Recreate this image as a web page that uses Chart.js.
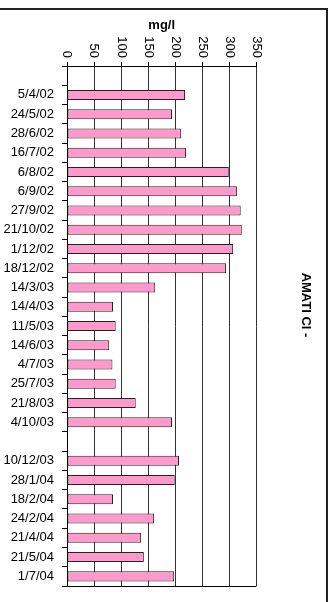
<!DOCTYPE html>
<html lang="en">
<head>
<meta charset="UTF-8" />
<title>AMATI Cl -</title>
<script src="https://cdn.jsdelivr.net/npm/chart.js@4.4.0/dist/chart.umd.min.js"></script>
<style>
  html, body { margin: 0; padding: 0; background: #fff; }
</style>
</head>
<body>
<canvas id="chart1" width="332" height="602"></canvas>
<script>
// sampling dates (blank rows are empty slots in the original sheet)
const dates = ['', '5/4/02', '24/5/02', '28/6/02', '16/7/02', '6/8/02', '6/9/02', '27/9/02',
  '21/10/02', '1/12/02', '18/12/02', '14/3/03', '14/4/03', '11/5/03', '14/6/03', '4/7/03',
  '25/7/03', '21/8/03', '4/10/03', '', '10/12/03', '28/1/04', '18/2/04', '24/2/04',
  '21/4/04', '21/5/04', '1/7/04'];
// chloride, mg/l
const chloride = [null, 218, 194, 211, 220, 299, 314, 321, 323, 307, 294, 163, 85, 90, 78,
  84, 90, 127, 194, null, 207, 199, 85, 161, 137, 142, 198];
const xTicks = [0, 50, 100, 150, 200, 250, 300, 350];

const FONT = '"Liberation Sans", Arial, sans-serif';

// tick labels on the top axis read downwards, frame lines round the chart
const sideStuff = {
  id: 'sideStuff',
  afterDraw(chart) {
    const ctx = chart.ctx;
    const area = chart.chartArea;
    const x = chart.scales.x;
    ctx.save();
    ctx.font = '13px ' + FONT;
    ctx.fillStyle = '#000';
    ctx.textAlign = 'right';
    ctx.textBaseline = 'middle';
    x.ticks.forEach((t) => {
      const px = x.getPixelForValue(t.value);
      ctx.save();
      ctx.translate(px, area.top - 8);
      ctx.rotate(Math.PI / 2);
      ctx.fillText(String(t.value), 0, 0);
      ctx.restore();
    });

    ctx.strokeStyle = '#000';
    ctx.lineWidth = 1;
    ctx.beginPath();
    ctx.moveTo(area.left, Math.round(area.bottom) + 0.5);
    ctx.lineTo(area.right, Math.round(area.bottom) + 0.5);
    ctx.stroke();

    ctx.strokeStyle = '#222';
    ctx.lineWidth = 2;
    ctx.beginPath();
    ctx.moveTo(0, 9);
    ctx.lineTo(327, 9);
    ctx.lineTo(327, 602);
    ctx.stroke();
    ctx.restore();
  }
};

const ctx = document.getElementById('chart1').getContext('2d');
const chart1 = new Chart(ctx, {
  type: 'bar',
  data: {
    labels: dates,
    datasets: [{
      label: 'Cl -',
      data: chloride,
      backgroundColor: '#ff99cc',
      borderColor: '#222',
      borderWidth: 1,
      borderSkipped: false,
      categoryPercentage: 1,
      barPercentage: 0.52
    }]
  },
  options: {
    indexAxis: 'y',
    responsive: false,
    animation: false,
    layout: { padding: { top: 8, left: 0, right: 0, bottom: 0 } },
    plugins: {
      legend: { display: false },
      tooltip: { enabled: false },
      title: {
        display: true,
        text: 'AMATI Cl -',
        position: 'right',
        color: '#000',
        font: { family: FONT, size: 13, weight: 'bold' },
        padding: { top: 19, bottom: 41 }
      },
      subtitle: {
        display: true,
        text: ' ',
        position: 'bottom',
        font: { family: FONT, size: 10, lineHeight: 1.6 },
        padding: 0
      }
    },
    scales: {
      x: {
        position: 'top',
        min: 0,
        max: 350,
        afterBuildTicks: (s) => { s.ticks = xTicks.map((v) => ({ value: v })); },
        afterFit: (s) => { s.height = 58; },
        grid: { color: '#333', lineWidth: 1, tickLength: 4, tickColor: '#000' },
        border: { color: '#000', width: 1 },
        ticks: { display: false },
        title: {
          display: true,
          text: 'mg/l',
          color: '#000',
          font: { family: FONT, size: 13, weight: 'bold' },
          padding: { top: 10, bottom: 0 }
        }
      },
      y: {
        afterFit: (s) => { s.width = 67; },
        grid: { drawOnChartArea: false, tickLength: 5, color: '#000' },
        border: { color: '#000', width: 1 },
        ticks: {
          autoSkip: false,
          color: '#000',
          padding: 8,
          font: { family: FONT, size: 13 }
        }
      }
    }
  },
  plugins: [sideStuff]
});
</script>
</body>
</html>
